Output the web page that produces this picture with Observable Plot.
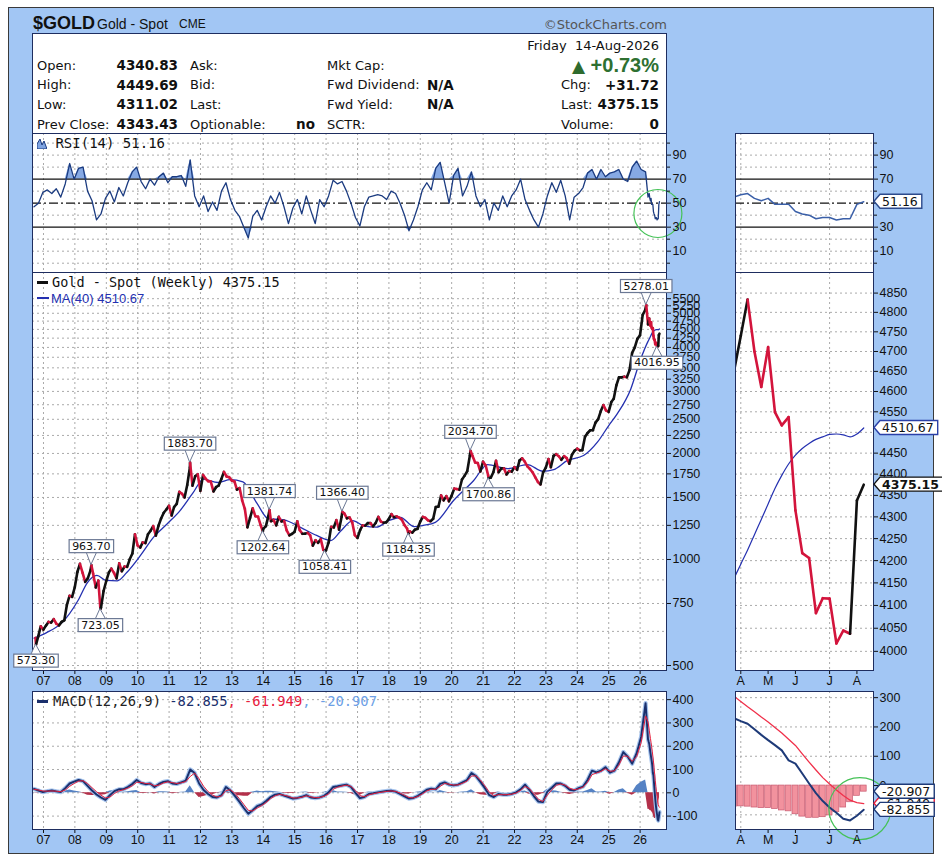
<!DOCTYPE html>
<html><head><meta charset="utf-8">
<script src="https://cdn.jsdelivr.net/npm/d3@7"></script>
<script src="https://cdn.jsdelivr.net/npm/@observablehq/plot@0.6"></script>
<style>
html,body{margin:0;padding:0;background:#fff;}
#root{position:relative;width:942px;height:860px;overflow:hidden;font-family:"DejaVu Sans",Verdana,sans-serif;color:#111;}
.t{position:absolute;white-space:pre;line-height:1;}
</style></head><body><div id="root"></div>
<script>
// ================= DATA =================
const monthlyStart = [2006, 9]; // first monthly close: Sep 2006
const monthlyClose = [
 599,604,646,632,
 650,665,662,677,657,650,665,672,743,789,783,834,
 923,972,916,864,885,930,912,833,871,730,814,869,
 919,942,916,884,975,926,955,953,1001,1040,1179,1096,
 1081,1118,1113,1179,1207,1244,1169,1248,1307,1357,1386,1421,
 1333,1409,1439,1556,1536,1500,1628,1826,1620,1722,1746,1566,
 1738,1697,1668,1664,1560,1604,1622,1692,1773,1720,1712,1675,
 1664,1579,1595,1472,1393,1234,1313,1396,1327,1323,1253,1222,
 1244,1326,1284,1296,1250,1322,1282,1287,1210,1171,1182,1199,
 1283,1212,1183,1183,1190,1172,1095,1134,1115,1142,1065,1061,
 1118,1238,1233,1293,1215,1322,1351,1309,1316,1275,1173,1151,
 1211,1249,1248,1268,1268,1242,1269,1321,1281,1271,1275,1303,
 1345,1318,1325,1315,1298,1253,1224,1201,1192,1215,1222,1281,
 1321,1313,1292,1284,1305,1409,1413,1520,1472,1513,1463,1517,
 1589,1585,1577,1687,1730,1781,1975,1967,1886,1878,1777,1895,
 1848,1734,1708,1769,1906,1770,1814,1814,1743,1783,1775,1829,
 1797,1909,1937,1897,1838,1807,1766,1711,1660,1633,1768,1824,
 1928,1827,1969,1990,1963,1919,1965,1940,1870,1983,2036,2063,
 2040,2044,2230,2286,2327,2327,2447,2503,2634,2744,2650,2624,
 2798,2858,3124,3288,3289,3303,3290,3448,3858,4000,4230,4330,
 4950,5100
];
const weeklyDates = ["2026-04-03","2026-04-10","2026-04-17","2026-04-24","2026-05-01","2026-05-08","2026-05-15","2026-05-22","2026-05-29","2026-06-05","2026-06-12","2026-06-19","2026-06-26","2026-07-03","2026-07-10","2026-07-17","2026-07-24","2026-07-31","2026-08-07","2026-08-14"];
const weeklyClose  = [4650,4740,4833,4700,4611,4711,4549,4517,4537,4315,4217,4206,4083,4116,4115,4016.95,4045,4038,4338,4375.15];
const weeklyUp     = [0,1,1,0,0,0,0,0,0,0,0,0,0,0,0,0,0,0,1,1];
const weeklyMA     = [4160,4192,4224,4259,4294,4330,4366,4397,4424,4445,4461,4473,4483,4489,4495,4496,4494,4489,4496,4510.67];
const weeklyRSI    = [55,57,58,54,52,54,49,49,49,43,41,40,37,38,38,36,37,37,49,51.16];
const weeklyMACD   = [230,220,211,192,173,155,138,120,86,75,41,7,-26,-53,-75,-93,-113,-119,-103,-82.855];
const weeklySignal = [305,287,269,252,234,217,198,179,158,137,108,80,53,27,5,-15,-34,-50,-58,-61.949];
const weeklyHist   = [-72,-71,-72,-75,-77,-77,-80,-85,-88,-98,-106,-110,-110,-108,-102,-91,-75,-57,-35,-20.907];

const maYears  = [2006.70,2007.10,2007.60,2008.10,2008.40,2008.70,2009.00,2009.35,2009.65,2010.10,2010.50,2010.95,2011.35,2011.75,2012.10,2012.55,2012.95,2013.35,2013.80,2014.15,2014.65,2015.20,2015.70,2016.15,2016.45,2016.85,2017.20,2017.60,2018.00,2018.37,2018.80,2019.10,2019.48,2020.06,2020.70,2021.14,2021.78,2022.41,2022.90,2023.25,2023.69,2024.20,2024.64,2025.00,2025.28,2025.70,2026.00];
const maValues = [598,620,663,765,860,901,872,870,918,1030,1155,1265,1377,1540,1690,1654,1685,1660,1443,1307,1295,1232,1170,1132,1200,1290,1245,1235,1290,1316,1240,1250,1275,1470,1676,1860,1812,1860,1780,1800,1911,1973,2153,2400,2598,3045,3668];

// oscillator readings (every ~7.4 weeks from gridStartYear)
const gridStartYear = 2006.697, gridStepYears = 0.14217;
const rsiGrid = [47,50,59,61,58,62,55,66,83,70, 79,80,60,52,36,41,54,60,51,63, 56,67,76,80,68,62,70,65,72,75, 67,72,72,73,64,86,56,47,56,43,
 51,44,60,67,53,44,39,30,21,39, 44,36,47,56,50,59,47,33,46,53, 41,56,44,33,53,47,56,69,66,68, 60,50,38,31,47,55,56,57,56,53,
 60,58,50,40,27,36,47,61,67,61, 79,84,67,50,73,79,56,64,76,56, 47,53,36,50,44,56,47,56,61,70, 53,44,36,30,41,56,67,59,69,56,
 36,55,58,63,75,78,70,78,72,75, 76,78,70,68,80,85,78,76];
const macdGrid = [17,10,3,7,10,6,3,20,40,48, 55,50,30,10,-7,-20,-30,-10,7,15, 15,25,38,55,42,37,40,25,38,47, 50,40,38,45,52,100,85,40,12,-5,
 -18,-20,-10,25,10,-13,-38,-65,-90,-75, -57,-50,-35,-18,-8,-5,-12,-18,-25,-22, -17,-10,-20,-23,-20,-13,2,25,28,32, 35,25,0,-23,-18,-5,-2,2,5,8,
 9,5,-5,-15,-25,-22,-13,0,13,18, 15,38,45,35,32,35,45,55,85,72, 47,20,-10,-18,-5,-8,-8,-5,2,15, 35,12,-15,-38,-40,5,22,40,40,30,
 13,10,20,27,55,95,88,95,110,87, 95,130,175,155,125,170,240,385];
const signalGrid = [15,12,8,7,8,7,5,12,28,40, 50,52,40,22,5,-10,-22,-18,-3,8, 13,20,30,45,45,40,39,30,33,42, 47,44,40,43,48,70,85,60,28,5,
 -10,-18,-14,10,13,-2,-25,-50,-75,-78, -65,-55,-42,-25,-13,-7,-10,-15,-22,-22, -19,-13,-17,-21,-20,-15,-5,15,24,29, 33,28,10,-12,-17,-9,-4,0,3,6,
 8,6,-1,-10,-20,-22,-16,-5,8,15, 15,28,40,37,33,34,41,50,72,73, 55,30,2,-12,-8,-8,-8,-6,-1,10, 27,18,-5,-28,-37,-10,13,32,38,33,
 20,13,17,24,45,78,85,92,103,93, 94,118,158,157,135,155,215,330];
const histGrid = [2,-2,-5,0,2,-1,-2,8,12,8, 5,-2,-10,-12,-12,-10,-8,8,10,7, 2,5,8,10,-3,-3,1,-5,5,5, 3,-4,-2,2,4,30,0,-20,-16,-10,
 -8,-2,4,15,-3,-11,-13,-15,-15,3, 8,5,7,7,5,2,-2,-3,-3,0, 2,3,-3,-2,0,2,7,10,4,3, 2,-3,-10,-11,-1,4,2,2,2,2,
 1,-1,-4,-5,-5,0,3,5,5,3, 0,10,5,-2,-1,1,4,5,13,-1, -8,-10,-12,-6,3,0,0,1,3,5, 8,-6,-10,-10,-3,15,9,8,2,-3,
 -7,-3,3,3,10,17,3,3,7,-6, 1,12,17,-2,-10,30,45,55];

const swingDates  = ["2006-10-06","2008-07-11","2008-10-24","2011-09-02","2013-12-27","2014-03-14","2015-12-18","2016-07-08","2018-08-17","2020-08-07","2021-03-05","2026-03-13","2026-07-17"];
const swingValues = [573.30,963.70,723.05,1883.70,1202.64,1381.74,1058.41,1366.40,1184.35,2034.70,1700.86,5278.01,4016.95];
const swingKind   = ["low","high","low","high","low","high","low","high","low","high","low","high","low"];

const yearLabels = ["07","08","09","10","11","12","13","14","15","16","17","18","19","20","21","22","23","24","25","26"];
const priceTicks = [500,750,1000,1250,1500,1750,2000,2250,2500,2750,3000,3250,3500,3750,4000,4250,4500,4750,5000,5250,5500];
const priceGridExtra = [625,875];
const rightPriceTicks = [4000,4050,4100,4150,4200,4250,4300,4350,4400,4450,4500,4550,4600,4650,4700,4750,4800,4850];
const rightPriceHidden = [4500];           // label covered by the MA value tag
const monthTickDates = ["2026-04-10","2026-05-08","2026-06-05","2026-07-10","2026-08-07"];
const monthTickLabels = ["A","M","J","J","A"];
const monthGridDates = ["2026-04-10","2026-07-10"];
const rsiTicks = [10,30,50,70,90];
const rsiRightHidden = [50];               // label covered by the RSI value tag
const rsiMinorTicks = [0,20,40,60,80,100];
const rsiGridLines = [0,10,20,40,60,80,90,100];
const macdTicksLeft = [-100,0,100,200,300,400];
const macdTicksRight = [-100,0,100,200,300];
const macdRightHidden = [-100];            // label covered by the MACD value tags
const highlightRSI = [{date:"2026-07-27", v:41.4}];
const highlightMACD = [{date:"2026-0810".replace("08","08-"), v:-78.5}];

// ================= HELPERS =================
const root = document.getElementById("root");
const NAVY = "#1e2d5f", GRID = "#aaaaaa", UP = "#111111", DOWN = "#d3143c";
const D = s => new Date(s + "T00:00:00Z");
const dec = y => { const Y = Math.floor(y), s = Date.UTC(Y,0,1), e = Date.UTC(Y+1,0,1); return new Date(s + (y-Y)*(e-s)); };
function T(x, y, s, css, right) {
  const el = document.createElement("div");
  el.className = "t";
  el.style.cssText = css;
  const fs = parseFloat(el.style.fontSize) || 13;
  el.style.top = (y - 0.49*fs) + "px";
  if (right) el.style.right = (942 - x) + "px"; else el.style.left = x + "px";
  el.innerHTML = s;
  root.appendChild(el);
  return el;
}
function box(x, y, w, h, css) {
  const el = document.createElement("div");
  el.style.cssText = `position:absolute;left:${x}px;top:${y}px;width:${w}px;height:${h}px;box-sizing:border-box;` + css;
  root.appendChild(el); return el;
}
function mount(svg, left, top) {
  svg.style.position = "absolute"; svg.style.left = left + "px"; svg.style.top = top + "px";
  svg.style.overflow = "visible"; svg.style.maxWidth = "none";
  root.appendChild(svg); return svg;
}
const STYLE = {background:"transparent", fontFamily:'"Liberation Sans",Arial,sans-serif', fontSize:"12.5px", color:"#111", overflow:"visible"};
const grid = {stroke: GRID, strokeDasharray: "2,3", strokeWidth: 1};
const without = (arr, hidden) => arr.filter(v => !hidden.includes(v));

// ================= SERIES =================
const yearDates = yearLabels.map(s => new Date(Date.UTC(2000 + Number(s), 0, 1)));
const monthTicks = monthTickDates.map(D);
const weekly = weeklyDates.map((d,i) => ({date:D(d), close:weeklyClose[i], up:weeklyUp[i]===1, ma:weeklyMA[i],
  rsi:weeklyRSI[i], macd:weeklyMACD[i], signal:weeklySignal[i], hist:weeklyHist[i]}));
const osc = rsiGrid.map((v,k) => ({date:dec(gridStartYear + k*gridStepYears), rsi:v, macd:macdGrid[k], signal:signalGrid[k], hist:histGrid[k]}))
  .concat(weekly.map(w => ({date:w.date, rsi:w.rsi, macd:w.macd, signal:w.signal, hist:w.hist})));
const maL = maYears.map((y,i) => ({date:dec(y), v:maValues[i]})).concat(weekly.map(w => ({date:w.date, v:w.ma})));
const swings = swingDates.map((d,i) => ({date:D(d), v:swingValues[i], kind:swingKind[i], label:swingValues[i].toFixed(2)}));

let px = monthlyClose.map((v,i) => ({date:new Date(Date.UTC(monthlyStart[0], monthlyStart[1] - 1 + i + 1, 0)), v}));
swings.forEach(s => { if (s.date < weekly[0].date) px.push({date:s.date, v:s.v}); });
px.sort((a,b) => a.date - b.date);
px.forEach((d,i) => d.up = i === 0 ? true : d.v >= px[i-1].v);
px = px.concat(weekly.map(w => ({date:w.date, v:w.close, up:w.up})));
const segs = d3.pairs(px).map(([a,b]) => ({x1:a.date, y1:a.v, x2:b.date, y2:b.v, up:b.up}));
const segsW = d3.pairs(weekly).map(([a,b]) => ({x1:a.date, y1:a.close, x2:b.date, y2:b.close, up:b.up}));

const X_LEFT = [dec(2006.6497), dec(2026.841)];
const X_RIGHT = [new Date(Date.UTC(2026,3,4,14)), new Date(Date.UTC(2026,7,24,0))];
const monthFmt = d => monthTickLabels[monthTicks.findIndex(m => +m === +d)];

// ================= FRAME & HEADER =================
box(8, 7, 926, 847, "background:#a2c6f4;border:1px solid #3a3a3a;");
box(32, 33, 635, 101, "background:#fff;border:1px solid " + NAVY + ";");
T(33, 22, "$GOLD", 'font:bold 18px "Liberation Sans",Arial,sans-serif;color:#111;font-size:18px;');
T(97, 23, "Gold - Spot", 'font:14px "Liberation Sans",Arial,sans-serif;font-size:14px;');
T(179, 23, "CME", 'font:12px "Liberation Sans",Arial,sans-serif;font-size:12px;');
T(667, 23, "©StockCharts.com", 'font:13px "DejaVu Sans",sans-serif;font-size:13px;color:#555;', true);

const L = 'font:13px "DejaVu Sans",Verdana,sans-serif;font-size:13px;';
const V = 'font:bold 13.5px "DejaVu Sans",Verdana,sans-serif;font-size:13.5px;';
T(659, 44, "Friday  14-Aug-2026", L, true);
const rows = [64, 83.5, 103, 123];
[["Open:","4340.83","Ask:"],["High:","4449.69","Bid:"],["Low:","4311.02","Last:"],["Prev Close:","4343.43","Optionable:"]]
  .forEach((r,i) => { T(37, rows[i], r[0], L); T(178, rows[i], r[1], V, true); T(190, rows[i], r[2], L); });
T(315, rows[3], "no", V, true);
T(327, rows[0], "Mkt Cap:", L); T(327, rows[1], "Fwd Dividend:", L); T(327, rows[2], "Fwd Yield:", L); T(327, rows[3], "SCTR:", L);
T(427, rows[1], "N/A", V); T(427, rows[2], "N/A", V);
T(659, rows[0], '<span style="font:17px \'DejaVu Sans\';color:#2e6b2e;">▲</span> +0.73%', 'font:bold 20px "Liberation Sans",Arial,sans-serif;font-size:20px;color:#2e7031;', true);
T(561, rows[1], "Chg:", L); T(659, rows[1], "+31.72", V, true);
T(561, rows[2], "Last:", L); T(659, rows[2], "4375.15", V, true);
T(561, rows[3], "Volume:", L); T(659, rows[3], "0", V, true);

// ================= LEFT PANELS =================
const rsiLeft = mount(Plot.plot({
  width: 671, height: 140, marginLeft: 1, marginTop: 1, marginRight: 36, marginBottom: 0, style: STYLE,
  x: {type:"utc", domain: X_LEFT, axis: null}, y: {domain: [-7.75, 108]}, color: {type:"identity"},
  marks: [
    Plot.frame({fill:"white"}),
    Plot.ruleY(rsiGridLines, grid),
    Plot.ruleX(yearDates, grid),
    Plot.areaY(osc, {x:"date", y1:70, y2:d => Math.max(d.rsi, 70), fill:"#86a9e4"}),
    Plot.areaY(osc, {x:"date", y1:30, y2:d => Math.min(d.rsi, 30), fill:"#86a9e4"}),
    Plot.ruleY([70,30], {stroke:"#111", strokeWidth:1.3}),
    Plot.ruleY([50], {stroke:"#111", strokeWidth:1.1, strokeDasharray:"9,3,2,3"}),
    Plot.line(osc, {x:"date", y:"rsi", stroke:"#1b3b80", strokeWidth:1.3}),
    Plot.dot(highlightRSI, {x:d => D(d.date), y:"v", r:24, stroke:"#45c257", strokeWidth:1.2, fill:"none"}),
    Plot.axisY({anchor:"right", ticks: rsiTicks, tickSize:4, tickPadding:2, tickFormat:d => String(d), label:null}),
    Plot.axisY({anchor:"right", ticks: rsiMinorTicks, tickSize:3, tickFormat:() => "", label:null}),
    Plot.frame({stroke: NAVY})
  ]
}), 31, 132);

const priceLeft = mount(Plot.plot({
  width: 671, height: 419, marginLeft: 1, marginTop: 1, marginRight: 36, marginBottom: 20, style: STYLE,
  x: {type:"utc", domain: X_LEFT}, y: {type:"log", domain: [484, 6527]}, color: {type:"identity"},
  marks: [
    Plot.frame({fill:"white"}),
    Plot.ruleY(priceTicks.concat(priceGridExtra), grid),
    Plot.ruleX(yearDates, grid),
    Plot.line(maL, {x:"date", y:"v", stroke:"#2430b0", strokeWidth:1.3, curve:"monotone-x"}),
    Plot.link(segs, {x1:"x1", y1:"y1", x2:"x2", y2:"y2", stroke:d => d.up ? UP : DOWN, strokeWidth:2.6, strokeLinecap:"round"}),
    Plot.axisY({anchor:"right", ticks: priceTicks, tickFormat: d3.format("d"), tickSize:4, tickPadding:2, label:null}),
    Plot.axisX({anchor:"bottom", ticks: yearDates, tickFormat: d3.utcFormat("%y"), tickSize:4, tickPadding:2, label:null}),
    Plot.frame({stroke: NAVY}),
    Plot.text(swings.filter(d => d.kind === "high"), {x:"date", y:"v", text:"label", dy:-19, fontFamily:"DejaVu Sans", fontSize:11, fill:"#111"}),
    Plot.text(swings.filter(d => d.kind === "low"), {x:"date", y:"v", text:"label", dy:16, fontFamily:"DejaVu Sans", fontSize:11, fill:"#111"})
  ]
}), 31, 271);

const macdLeft = mount(Plot.plot({
  width: 671, height: 157, marginLeft: 1, marginTop: 1, marginRight: 36, marginBottom: 18, style: STYLE,
  x: {type:"utc", domain: X_LEFT}, y: {domain: [-157.5, 435]}, color: {type:"identity"},
  marks: [
    Plot.frame({fill:"white"}),
    Plot.ruleY(macdTicksLeft, grid),
    Plot.ruleX(yearDates, grid),
    Plot.areaY(osc, {x:"date", y:d => Math.max(d.hist, 0), fill:"#5582c4"}),
    Plot.areaY(osc, {x:"date", y:d => Math.min(d.hist, 0), fill:"#b3304a"}),
    Plot.line(osc, {x:"date", y:"macd", stroke:"#a3c2ec", strokeWidth:4.2}),
    Plot.line(osc, {x:"date", y:"macd", stroke:"#1a2f6c", strokeWidth:1.9}),
    Plot.line(osc, {x:"date", y:"signal", stroke:"#e8203c", strokeWidth:1}),
    Plot.axisY({anchor:"right", ticks: macdTicksLeft, tickSize:4, tickPadding:2, tickFormat:d => String(d), label:null}),
    Plot.axisX({anchor:"bottom", ticks: yearDates, tickFormat: d3.utcFormat("%y"), tickSize:4, tickPadding:2, label:null}),
    Plot.frame({stroke: NAVY})
  ]
}), 31, 690);

// ================= RIGHT PANELS =================
const rsiRight = mount(Plot.plot({
  width: 201, height: 140, marginLeft: 1, marginTop: 1, marginRight: 62, marginBottom: 0, style: STYLE,
  x: {type:"utc", domain: X_RIGHT, axis: null}, y: {domain: [-7.75, 108]}, color: {type:"identity"},
  marks: [
    Plot.frame({fill:"white"}),
    Plot.ruleY(rsiGridLines, grid),
    Plot.ruleX(monthGridDates.map(D), grid),
    Plot.ruleY([70,30], {stroke:"#111", strokeWidth:1.3}),
    Plot.ruleY([50], {stroke:"#111", strokeWidth:1.1, strokeDasharray:"9,3,2,3"}),
    Plot.line(weekly, {x:"date", y:"rsi", stroke:"#3a5fa8", strokeWidth:1.5, clip:true}),
    Plot.axisY({anchor:"right", ticks: without(rsiTicks, rsiRightHidden), tickSize:4, tickPadding:2, tickFormat:d => String(d), label:null}),
    Plot.axisY({anchor:"right", ticks: rsiMinorTicks.concat(rsiRightHidden), tickSize:3, tickFormat:() => "", label:null}),
    Plot.frame({stroke: NAVY})
  ]
}), 734, 132);

const priceRight = mount(Plot.plot({
  width: 201, height: 419, marginLeft: 1, marginTop: 1, marginRight: 62, marginBottom: 20, style: STYLE,
  x: {type:"utc", domain: X_RIGHT}, y: {type:"log", domain: [3959, 4904]}, color: {type:"identity"},
  marks: [
    Plot.frame({fill:"white"}),
    Plot.ruleY(rightPriceTicks, grid),
    Plot.ruleX(monthGridDates.map(D), grid),
    Plot.line(weekly, {x:"date", y:"ma", stroke:"#2430b0", strokeWidth:1.2, curve:"monotone-x", clip:true}),
    Plot.link(segsW, {x1:"x1", y1:"y1", x2:"x2", y2:"y2", stroke:d => d.up ? UP : DOWN, strokeWidth:2.6, strokeLinecap:"round", clip:true}),
    Plot.axisY({anchor:"right", ticks: without(rightPriceTicks, rightPriceHidden), tickFormat: d3.format("d"), tickSize:4, tickPadding:2, label:null}),
    Plot.axisX({anchor:"bottom", ticks: monthTicks, tickFormat: monthFmt, tickSize:4, tickPadding:2, label:null}),
    Plot.frame({stroke: NAVY})
  ]
}), 734, 271);

const macdRight = mount(Plot.plot({
  width: 201, height: 157, marginLeft: 1, marginTop: 1, marginRight: 62, marginBottom: 18, style: STYLE,
  x: {type:"utc", domain: X_RIGHT}, y: {domain: [-150, 321]}, color: {type:"identity"},
  marks: [
    Plot.frame({fill:"white"}),
    Plot.ruleY([-100,100,200,300], grid),
    Plot.ruleX(monthGridDates.map(D), grid),
    Plot.rectY(weekly, {x1:d => d3.utcDay.offset(d.date, -3), x2:d => d3.utcDay.offset(d.date, 3), y:"hist", fill:"#f2929e", stroke:"#c95a70", strokeWidth:0.7, clip:true}),
    Plot.line(weekly, {x:"date", y:"signal", stroke:"#f0304a", strokeWidth:1.3, clip:true}),
    Plot.line(weekly, {x:"date", y:"macd", stroke:"#1e3a78", strokeWidth:2, clip:true}),
    Plot.dot(highlightMACD, {x:d => D(d.date), y:"v", r:31, stroke:"#45c257", strokeWidth:1.2, fill:"none"}),
    Plot.axisY({anchor:"right", ticks: without(macdTicksRight, macdRightHidden), tickSize:4, tickPadding:2, tickFormat:d => String(d), label:null}),
    Plot.axisX({anchor:"bottom", ticks: monthTicks, tickFormat: monthFmt, tickSize:4, tickPadding:2, label:null}),
    Plot.frame({stroke: NAVY})
  ]
}), 734, 690);

// ================= ANNOTATION BOXES & TAGS =================
function boxLabels(svg) {
  const byLabel = new Map(swings.map(d => [d.label, d]));
  const sr = svg.getBoundingClientRect();
  const sx = svg.scale("x"), sy = svg.scale("y");
  const texts = Array.from(svg.querySelectorAll("text")).filter(t => byLabel.has(t.textContent.trim()));
  const first = texts.length ? texts[0].parentNode : null;
  if (!first) return;
  const over = d3.create("svg:g").attr("class", "swing-boxes");
  first.parentNode.insertBefore(over.node(), first);
  texts.forEach(t => {
    const d = byLabel.get(t.textContent.trim());
    const r = t.getBoundingClientRect();
    const x0 = r.left - sr.left - 3, y0 = r.top - sr.top, w = r.width + 6, h = r.height;
    const px = sx.apply(d.date), py = sy.apply(d.v), cx = x0 + w/2;
    const edge = d.kind === "high" ? y0 + h : y0;
    over.append("path").attr("d", `M${cx-5},${edge}L${px},${py}L${cx+5},${edge}`)
      .attr("fill", "white").attr("stroke", "#6b7894").attr("stroke-width", 1);
    over.append("rect").attr("x", x0).attr("y", y0).attr("width", w).attr("height", h)
      .attr("fill", "white").attr("stroke", "#6b7894").attr("stroke-width", 1.2);
  });
}
boxLabels(priceLeft);

function tag(svg, yv, label, stroke, color, weight) {
  const y = svg.scale("y").apply(yv), x = Math.max(...svg.scale("x").range) + 1;
  const g = d3.select(svg).append("g");
  const t = g.append("text").attr("x", x + 8).attr("y", y).attr("dy", "0.36em").attr("text-anchor", "start")
    .attr("font-family", '"DejaVu Sans",Verdana,sans-serif').attr("font-size", 12.5)
    .attr("font-weight", weight || "normal").attr("fill", color).text(label);
  const w = t.node().getComputedTextLength();
  g.insert("path", "text").attr("d", `M${x},${y}L${x+6},${y-7}H${x+w+12}V${y+7}H${x+6}Z`)
    .attr("fill", "white").attr("stroke", stroke).attr("stroke-width", 1.4);
}
tag(rsiRight, 51.16, "51.16", "#2c4a8c", "#111");
tag(priceRight, 4510.67, "4510.67", "#2a40a8", "#111");
tag(priceRight, 4375.15, "4375.15", "#111", "#111", "bold");
tag(macdRight, -61.949, "-61.949", "#e8203c", "#111");
tag(macdRight, -20.907, "-20.907", "#1e3a78", "#111");
tag(macdRight, -82.855, "-82.855", "#1e3a78", "#111");

// ================= PANEL LEGENDS =================
const MONO = 'font-family:"DejaVu Sans Mono",monospace;';
const icon = '<svg width="10" height="11" style="vertical-align:-1px"><path d="M0,11 L0,6 L3,1 L5,7 L7,3 L10,11 Z" fill="#7fa4e2" stroke="#1b3b80" stroke-width="1"/></svg>';
T(37, 143, icon + ' RSI(14) 51.16', MONO + 'font-size:14px;color:#111;');
box(37, 281, 11, 3, "background:#111;");
T(52, 283, "Gold - Spot (Weekly) 4375.15", MONO + 'font-size:13.5px;color:#111;');
box(37, 297, 12, 2, "background:#2430b0;");
T(51, 298, "MA(40) 4510.67", 'font-family:"Liberation Sans",Arial,sans-serif;font-size:13px;color:#2430b0;');
box(37, 700, 11, 3, "background:#1a2f6c;");
T(53, 702, 'MACD(12,26,9) <span style="color:#1a2f6c">-82.855</span><span style="color:#e8203c">, -61.949</span><span style="color:#6d9fe6">, -20.907</span>',
  MONO + 'font-size:13.8px;color:#222;');
</script></body></html>
